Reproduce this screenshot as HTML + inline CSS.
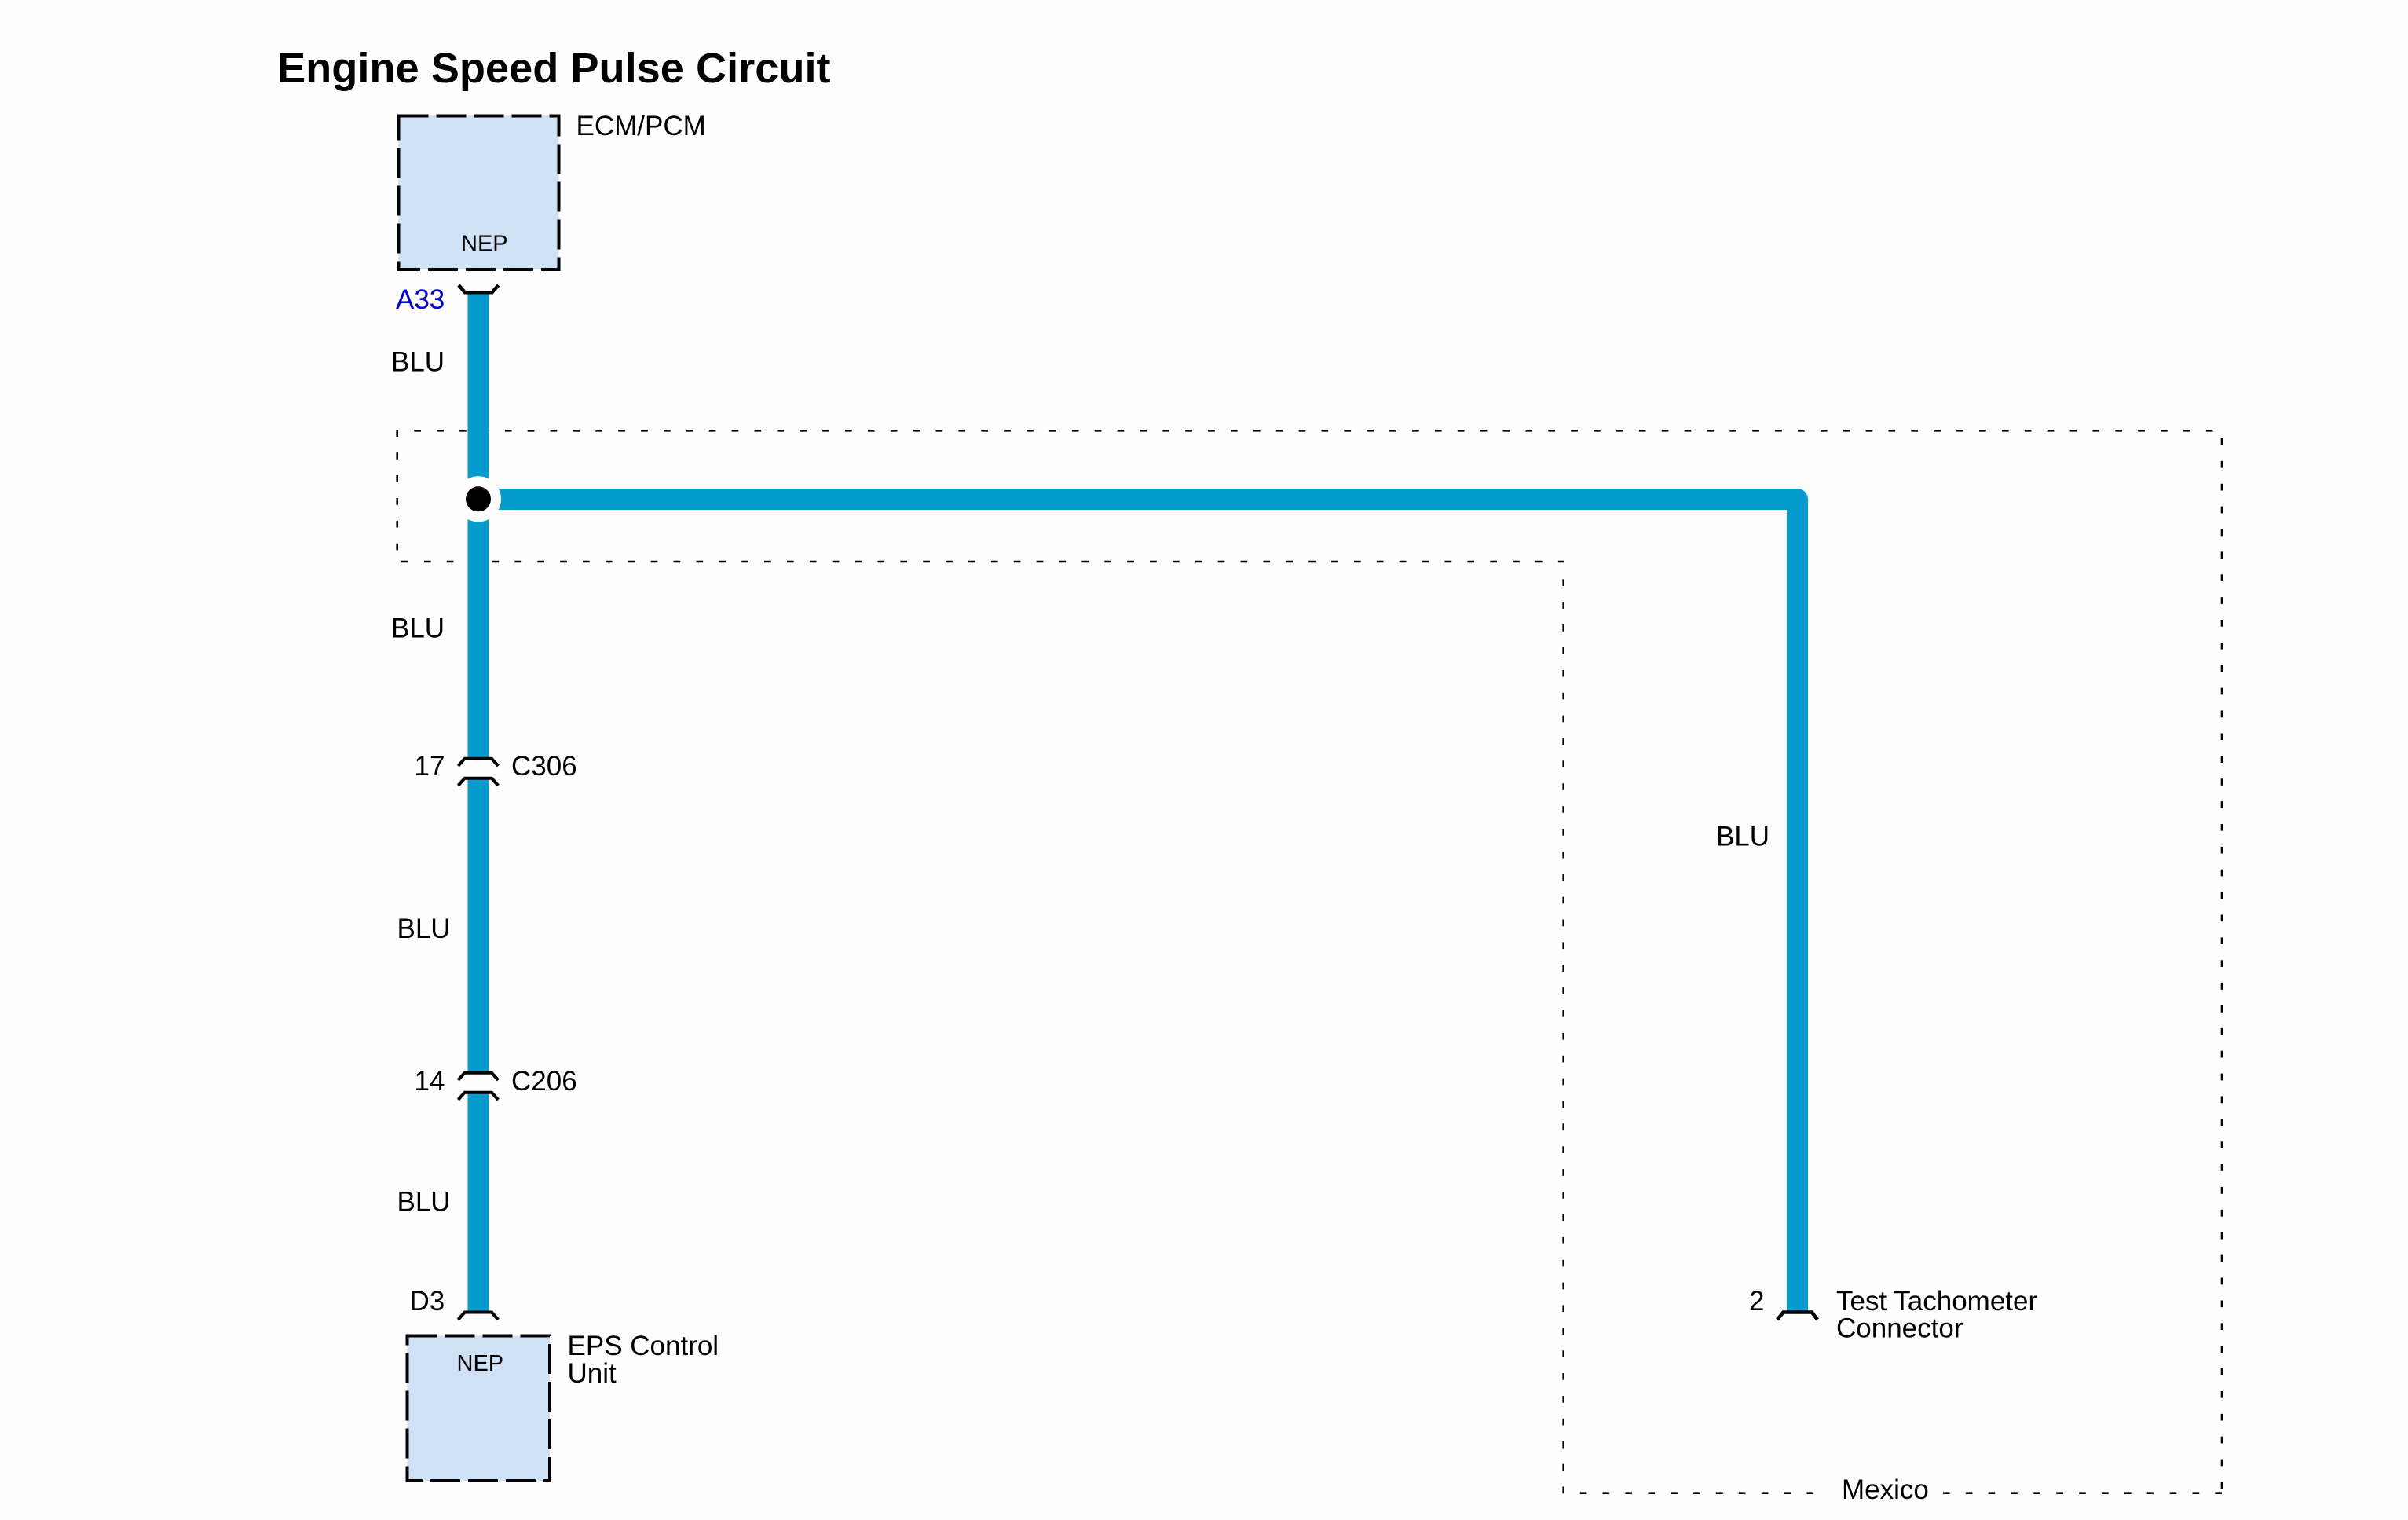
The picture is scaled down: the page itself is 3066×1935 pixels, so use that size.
<!DOCTYPE html>
<html>
<head>
<meta charset="utf-8">
<title>Engine Speed Pulse Circuit</title>
<style>
html,body{margin:0;padding:0;background:#fefefe;}
svg{display:block;}
text{font-family:"Liberation Sans",Arial,sans-serif;font-size:35px;fill:#000;}
.dot{stroke:#000;stroke-width:2.6;stroke-dasharray:8.7 20.18;fill:none;}
.wire{stroke:#069bcd;stroke-width:27;fill:none;stroke-linejoin:round;}
.conn{stroke:#000;stroke-width:4;fill:none;}
.box{fill:#cfe2f5;stroke:#000;stroke-width:4;stroke-dasharray:38 10;}
</style>
</head>
<body>
<svg xmlns="http://www.w3.org/2000/svg" width="3066" height="1935" viewBox="0 0 3066 1935">
<rect width="3066" height="1935" fill="#fefefe"/>

<text x="353" y="105" style="font-size:54.2px;font-weight:bold">Engine Speed Pulse Circuit</text>

<!-- dashed region -->
<line class="dot" x1="527.3" y1="548.3" x2="2820" y2="548.3"/>
<line class="dot" x1="505.7" y1="547.3" x2="505.7" y2="701"/>
<line class="dot" x1="511" y1="715" x2="1991.7" y2="715"/>
<line class="dot" x1="1990.7" y1="737.3" x2="1990.7" y2="1902"/>
<line class="dot" x1="2829" y1="558" x2="2829" y2="1896"/>
<line class="dot" x1="2011.7" y1="1900.7" x2="2322" y2="1900.7"/>
<line class="dot" x1="2473.8" y1="1900.7" x2="2830" y2="1900.7"/>

<!-- modules -->
<rect class="box" x="507.5" y="147.5" width="204" height="195.5"/>
<rect class="box" x="518.5" y="1700.5" width="181.5" height="184.5"/>

<!-- wires -->
<line class="wire" x1="609" y1="373" x2="609" y2="966"/>
<line class="wire" x1="609" y1="990" x2="609" y2="1366"/>
<line class="wire" x1="609" y1="1391" x2="609" y2="1669"/>
<path class="wire" d="M609 635.5H2288.5V1669"/>

<!-- splice -->
<circle cx="609" cy="635.3" r="29" fill="#fefefe"/>
<circle cx="609" cy="635.3" r="16" fill="#000"/>

<!-- connectors -->
<path class="conn" style="stroke-width:4.5" d="M584 363L592 372.3H626.5L634.5 363"/>
<path class="conn" d="M583.3 975L591.7 965.7H626L634.3 975"/>
<path class="conn" d="M583.3 1000L591.7 990.7H626L634.3 1000"/>
<path class="conn" d="M583.3 1375L591.7 1365.7H626L634.3 1375"/>
<path class="conn" d="M583.3 1400L591.7 1390.7H626L634.3 1400"/>
<path class="conn" d="M583.3 1680L591.7 1670.5H626L634.3 1680"/>
<path class="conn" style="stroke-width:4.5" d="M2263 1680L2270.5 1670.5H2307L2314 1680"/>

<!-- labels -->
<text x="733.5" y="172">ECM/PCM</text>
<text x="587" y="319.5" style="font-size:29px">NEP</text>
<text x="504" y="393" style="fill:#0000e0">A33</text>
<text x="498" y="472.7">BLU</text>
<text x="498" y="811.7">BLU</text>
<text x="527.5" y="987">17</text>
<text x="651" y="987">C306</text>
<text x="505.5" y="1194">BLU</text>
<text x="527.5" y="1388">14</text>
<text x="651" y="1388">C206</text>
<text x="505.5" y="1541.7">BLU</text>
<text x="521.5" y="1668">D3</text>
<text x="581.5" y="1745" style="font-size:29px">NEP</text>
<text x="722.5" y="1725">EPS Control</text>
<text x="722.5" y="1760">Unit</text>
<text x="2185" y="1076.7">BLU</text>
<text x="2227" y="1668">2</text>
<text x="2338" y="1668">Test Tachometer</text>
<text x="2338" y="1702.7">Connector</text>
<text x="2345" y="1908">Mexico</text>
</svg>
</body>
</html>
